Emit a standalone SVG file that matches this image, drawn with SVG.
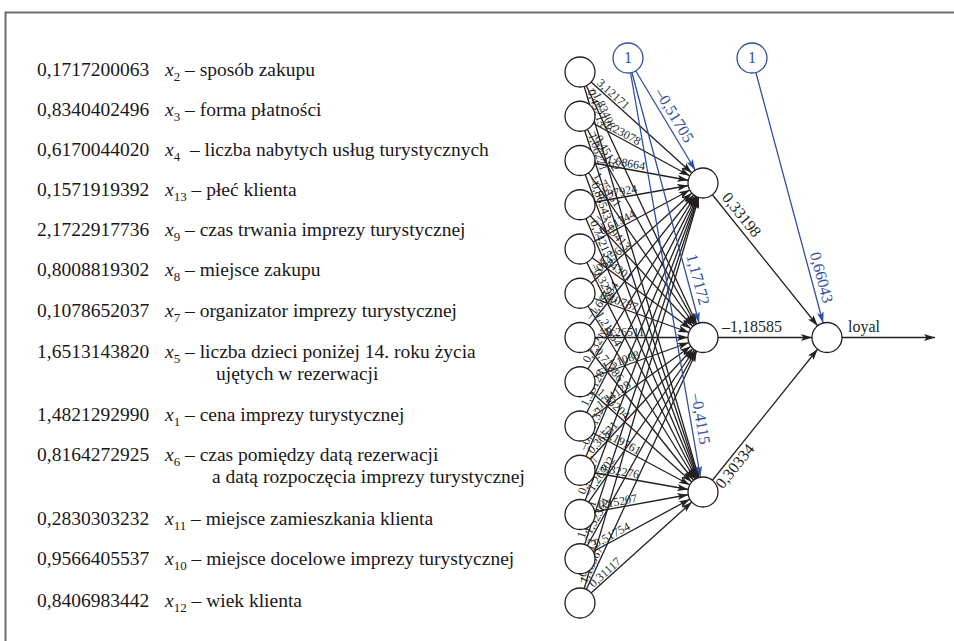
<svg xmlns="http://www.w3.org/2000/svg" width="954" height="641" viewBox="0 0 954 641">
<style>
.t{font-family:"Liberation Serif","Times New Roman",serif;font-size:19.5px;fill:#1a1718}
.s{font-size:13px}
.w{font-family:"Liberation Serif","Times New Roman",serif;font-size:12px;fill:#231f20}
.m{font-family:"Liberation Serif","Times New Roman",serif;font-size:16px;fill:#231f20}
.mb{font-family:"Liberation Serif","Times New Roman",serif;font-size:16px;fill:#2e4fa2}
.e line{stroke:#231f20;stroke-width:1.3;fill:none}
.e line.b{stroke:#2e4fa2}
circle{fill:#fff;stroke:#231f20;stroke-width:1.3}
circle.bc{stroke:#2e4fa2}
</style>
<defs>
<marker id="a" markerUnits="userSpaceOnUse" markerWidth="30" markerHeight="8" refX="26" refY="3.5" orient="auto"><path d="M0,0 L11,3.5 L0,7 L2.5,3.5 z" fill="#231f20"/></marker>
<marker id="ab" markerUnits="userSpaceOnUse" markerWidth="30" markerHeight="8" refX="26" refY="3.5" orient="auto"><path d="M0,0 L11,3.5 L0,7 L2.5,3.5 z" fill="#2e4fa2"/></marker>
<marker id="ae" markerUnits="userSpaceOnUse" markerWidth="12" markerHeight="8" refX="11" refY="3.5" orient="auto"><path d="M0,0 L11,3.5 L0,7 L2.5,3.5 z" fill="#231f20"/></marker>
</defs>
<rect x="5.5" y="12.5" width="1000" height="700" fill="#fff" stroke="#6d6d6d" stroke-width="2"/>

<g id="legend">
<text class="t" x="37" y="76">0,1717200063</text><text class="t" x="165" y="76"><tspan font-style="italic">x</tspan><tspan class="s" dy="5">2</tspan><tspan dy="-5"> – sposób zakupu</tspan></text>
<text class="t" x="37" y="116">0,8340402496</text><text class="t" x="165" y="116"><tspan font-style="italic">x</tspan><tspan class="s" dy="5">3</tspan><tspan dy="-5"> – forma płatności</tspan></text>
<text class="t" x="37" y="156">0,6170044020</text><text class="t" x="165" y="156"><tspan font-style="italic">x</tspan><tspan class="s" dy="5">4</tspan><tspan dy="-5">&#160;&#160;– liczba nabytych usług turystycznych</tspan></text>
<text class="t" x="37" y="196">0,1571919392</text><text class="t" x="165" y="196"><tspan font-style="italic">x</tspan><tspan class="s" dy="5">13</tspan><tspan dy="-5"> – płeć klienta</tspan></text>
<text class="t" x="37" y="236">2,1722917736</text><text class="t" x="165" y="236"><tspan font-style="italic">x</tspan><tspan class="s" dy="5">9</tspan><tspan dy="-5"> – czas trwania imprezy turystycznej</tspan></text>
<text class="t" x="37" y="276">0,8008819302</text><text class="t" x="165" y="276"><tspan font-style="italic">x</tspan><tspan class="s" dy="5">8</tspan><tspan dy="-5"> – miejsce zakupu</tspan></text>
<text class="t" x="37" y="317">0,1078652037</text><text class="t" x="165" y="317"><tspan font-style="italic">x</tspan><tspan class="s" dy="5">7</tspan><tspan dy="-5"> – organizator imprezy turystycznej</tspan></text>
<text class="t" x="37" y="358">1,6513143820</text><text class="t" x="165" y="358"><tspan font-style="italic">x</tspan><tspan class="s" dy="5">5</tspan><tspan dy="-5"> – liczba dzieci poniżej 14. roku życia</tspan></text>
<text class="t" x="216" y="380">ujętych w rezerwacji</text>
<text class="t" x="37" y="421">1,4821292990</text><text class="t" x="165" y="421"><tspan font-style="italic">x</tspan><tspan class="s" dy="5">1</tspan><tspan dy="-5"> – cena imprezy turystycznej</tspan></text>
<text class="t" x="37" y="461">0,8164272925</text><text class="t" x="165" y="461"><tspan font-style="italic">x</tspan><tspan class="s" dy="5">6</tspan><tspan dy="-5"> – czas pomiędzy datą rezerwacji</tspan></text>
<text class="t" x="212" y="483">a datą rozpoczęcia imprezy turystycznej</text>
<text class="t" x="37" y="525">0,2830303232</text><text class="t" x="165" y="525"><tspan font-style="italic">x</tspan><tspan class="s" dy="5">11</tspan><tspan dy="-5"> – miejsce zamieszkania klienta</tspan></text>
<text class="t" x="37" y="565">0,9566405537</text><text class="t" x="165" y="565"><tspan font-style="italic">x</tspan><tspan class="s" dy="5">10</tspan><tspan dy="-5"> – miejsce docelowe imprezy turystycznej</tspan></text>
<text class="t" x="37" y="607">0,8406983442</text><text class="t" x="165" y="607"><tspan font-style="italic">x</tspan><tspan class="s" dy="5">12</tspan><tspan dy="-5"> – wiek klienta</tspan></text>
</g>

<g id="connectors" class="e">
<line x1="580" y1="72" x2="703" y2="183" marker-end="url(#a)"/>
<line x1="580" y1="116.25" x2="703" y2="183" marker-end="url(#a)"/>
<line x1="580" y1="160.5" x2="703" y2="183" marker-end="url(#a)"/>
<line x1="580" y1="204.75" x2="703" y2="183" marker-end="url(#a)"/>
<line x1="580" y1="249" x2="703" y2="183" marker-end="url(#a)"/>
<line x1="580" y1="293.25" x2="703" y2="183" marker-end="url(#a)"/>
<line x1="580" y1="337.5" x2="703" y2="183" marker-end="url(#a)"/>
<line x1="580" y1="381.75" x2="703" y2="183" marker-end="url(#a)"/>
<line x1="580" y1="426" x2="703" y2="183" marker-end="url(#a)"/>
<line x1="580" y1="470.25" x2="703" y2="183" marker-end="url(#a)"/>
<line x1="580" y1="514.5" x2="703" y2="183" marker-end="url(#a)"/>
<line x1="580" y1="558.75" x2="703" y2="183" marker-end="url(#a)"/>
<line x1="580" y1="603" x2="703" y2="183" marker-end="url(#a)"/>

<line x1="580" y1="72" x2="703" y2="337.5" marker-end="url(#a)"/>
<line x1="580" y1="116.25" x2="703" y2="337.5" marker-end="url(#a)"/>
<line x1="580" y1="160.5" x2="703" y2="337.5" marker-end="url(#a)"/>
<line x1="580" y1="204.75" x2="703" y2="337.5" marker-end="url(#a)"/>
<line x1="580" y1="249" x2="703" y2="337.5" marker-end="url(#a)"/>
<line x1="580" y1="293.25" x2="703" y2="337.5" marker-end="url(#a)"/>
<line x1="580" y1="337.5" x2="703" y2="337.5" marker-end="url(#a)"/>
<line x1="580" y1="381.75" x2="703" y2="337.5" marker-end="url(#a)"/>
<line x1="580" y1="426" x2="703" y2="337.5" marker-end="url(#a)"/>
<line x1="580" y1="470.25" x2="703" y2="337.5" marker-end="url(#a)"/>
<line x1="580" y1="514.5" x2="703" y2="337.5" marker-end="url(#a)"/>
<line x1="580" y1="558.75" x2="703" y2="337.5" marker-end="url(#a)"/>
<line x1="580" y1="603" x2="703" y2="337.5" marker-end="url(#a)"/>

<line x1="580" y1="72" x2="703" y2="492" marker-end="url(#a)"/>
<line x1="580" y1="116.25" x2="703" y2="492" marker-end="url(#a)"/>
<line x1="580" y1="160.5" x2="703" y2="492" marker-end="url(#a)"/>
<line x1="580" y1="204.75" x2="703" y2="492" marker-end="url(#a)"/>
<line x1="580" y1="249" x2="703" y2="492" marker-end="url(#a)"/>
<line x1="580" y1="293.25" x2="703" y2="492" marker-end="url(#a)"/>
<line x1="580" y1="337.5" x2="703" y2="492" marker-end="url(#a)"/>
<line x1="580" y1="381.75" x2="703" y2="492" marker-end="url(#a)"/>
<line x1="580" y1="426" x2="703" y2="492" marker-end="url(#a)"/>
<line x1="580" y1="470.25" x2="703" y2="492" marker-end="url(#a)"/>
<line x1="580" y1="514.5" x2="703" y2="492" marker-end="url(#a)"/>
<line x1="580" y1="558.75" x2="703" y2="492" marker-end="url(#a)"/>
<line x1="580" y1="603" x2="703" y2="492" marker-end="url(#a)"/>

<line class="b" x1="628" y1="58" x2="703" y2="183" marker-end="url(#ab)"/>
<line class="b" x1="628" y1="58" x2="703" y2="337.5" marker-end="url(#ab)"/>
<line class="b" x1="628" y1="58" x2="703" y2="492" marker-end="url(#ab)"/>
<line class="b" x1="752" y1="58" x2="827" y2="337.5" marker-end="url(#ab)"/>

<line x1="703" y1="183" x2="827" y2="337.5" marker-end="url(#a)"/>
<line x1="703" y1="337.5" x2="827" y2="337.5" marker-end="url(#a)"/>
<line x1="703" y1="492" x2="827" y2="337.5" marker-end="url(#a)"/>
<line x1="827" y1="337.5" x2="935" y2="337.5" marker-end="url(#ae)"/>
</g>

<g id="weights">
<text class="w" transform="translate(580,72) rotate(42.06)" x="20" y="-2">3,12171</text>
<text class="w" transform="translate(580,116.25) rotate(28.49)" x="20" y="-2">–2,23078</text>
<text class="w" transform="translate(580,160.5) rotate(10.37)" x="20" y="-2">–1,68664</text>
<text class="w" transform="translate(580,204.75) rotate(-10.03)" x="20" y="-2">0,97924</text>
<text class="w" transform="translate(580,249) rotate(-28.22)" x="20" y="-2">–0,61344</text>
<text class="w" transform="translate(580,293.25) rotate(-41.87)" x="20" y="-2">1,08456</text>
<text class="w" transform="translate(580,337.5) rotate(-51.48)" x="20" y="-2">–1,66534</text>
<text class="w" transform="translate(580,381.75) rotate(-58.25)" x="20" y="-2">0,73215</text>
<text class="w" transform="translate(580,426) rotate(-63.16)" x="20" y="-2">1,55128</text>
<text class="w" transform="translate(580,470.25) rotate(-66.83)" x="20" y="-2">–0,84132</text>
<text class="w" transform="translate(580,514.5) rotate(-69.64)" x="20" y="-2">0,40127</text>
<text class="w" transform="translate(580,558.75) rotate(-71.87)" x="20" y="-2">1,87431</text>
<text class="w" transform="translate(580,603) rotate(-73.68)" x="20" y="-2">–0,92513</text>

<text class="w" transform="translate(580,72) rotate(65.14)" x="20" y="-2">–1,83408</text>
<text class="w" transform="translate(580,116.25) rotate(60.93)" x="20" y="-2">–0,45122</text>
<text class="w" transform="translate(580,160.5) rotate(55.21)" x="20" y="-2">1,75131</text>
<text class="w" transform="translate(580,204.75) rotate(47.18)" x="20" y="-2">–1,19413</text>
<text class="w" transform="translate(580,249) rotate(35.74)" x="20" y="-2">1,34301</text>
<text class="w" transform="translate(580,293.25) rotate(19.79)" x="20" y="-2">0,10787</text>
<text class="w" transform="translate(580,337.5)" x="20" y="-2">–0,26511</text>
<text class="w" transform="translate(580,381.75) rotate(-19.79)" x="20" y="-2">–1,51088</text>
<text class="w" transform="translate(580,426) rotate(-35.74)" x="20" y="-2">–1,24128</text>
<text class="w" transform="translate(580,470.25) rotate(-47.18)" x="20" y="-2">0,36531</text>
<text class="w" transform="translate(580,514.5) rotate(-55.21)" x="20" y="-2">–1,26302</text>
<text class="w" transform="translate(580,558.75) rotate(-60.93)" x="20" y="-2">–1,52364</text>
<text class="w" transform="translate(580,603) rotate(-65.14)" x="20" y="-2">1,18367</text>

<text class="w" transform="translate(580,72) rotate(73.68)" x="20" y="-2">0,45213</text>
<text class="w" transform="translate(580,116.25) rotate(71.87)" x="20" y="-2">1,06221</text>
<text class="w" transform="translate(580,160.5) rotate(69.64)" x="20" y="-2">–0,86543</text>
<text class="w" transform="translate(580,204.75) rotate(66.83)" x="20" y="-2">0,74215</text>
<text class="w" transform="translate(580,249) rotate(63.16)" x="20" y="-2">–0,32981</text>
<text class="w" transform="translate(580,293.25) rotate(58.25)" x="20" y="-2">–1,21654</text>
<text class="w" transform="translate(580,337.5) rotate(51.48)" x="20" y="-2">0,71386</text>
<text class="w" transform="translate(580,381.75) rotate(41.87)" x="20" y="-2">1,43204</text>
<text class="w" transform="translate(580,426) rotate(28.22)" x="20" y="-2">–0,19761</text>
<text class="w" transform="translate(580,470.25) rotate(10.03)" x="20" y="-2">0,32276</text>
<text class="w" transform="translate(580,514.5) rotate(-10.37)" x="20" y="-2">0,15207</text>
<text class="w" transform="translate(580,558.75) rotate(-28.49)" x="20" y="-2">0,51754</text>
<text class="w" transform="translate(580,603) rotate(-42.06)" x="20" y="-2">0,31117</text>

<text class="mb" transform="translate(628,58) rotate(59.04)" x="73" y="-5" text-anchor="middle">–0,51705</text>
<text class="mb" transform="translate(628,58) rotate(74.98)" x="232" y="-5" text-anchor="middle">1,17172</text>
<text class="mb" transform="translate(628,58) rotate(80.2)" x="368" y="-5" text-anchor="middle">–0,4115</text>
<text class="mb" transform="translate(752,58) rotate(74.98)" x="230" y="-5" text-anchor="middle">0,66043</text>
<text class="m" transform="translate(703,183) rotate(51.25)" x="49" y="-5" text-anchor="middle">0,33198</text>
<text class="m" x="722" y="332">–1,18585</text>
<text class="m" transform="translate(703,492) rotate(-51.25)" x="40" y="14" text-anchor="middle">0,30334</text>
<text class="m" x="848" y="332">loyal</text>
</g>

<g id="inputs">
<circle id="in1" cx="580" cy="72" r="15"/>
<circle id="in2" cx="580" cy="116.25" r="15"/>
<circle id="in3" cx="580" cy="160.5" r="15"/>
<circle id="in4" cx="580" cy="204.75" r="15"/>
<circle id="in5" cx="580" cy="249" r="15"/>
<circle id="in6" cx="580" cy="293.25" r="15"/>
<circle id="in7" cx="580" cy="337.5" r="15"/>
<circle id="in8" cx="580" cy="381.75" r="15"/>
<circle id="in9" cx="580" cy="426" r="15"/>
<circle id="in10" cx="580" cy="470.25" r="15"/>
<circle id="in11" cx="580" cy="514.5" r="15"/>
<circle id="in12" cx="580" cy="558.75" r="15"/>
<circle id="in13" cx="580" cy="603" r="15"/>
</g>
<g id="bias1"><circle class="bc" cx="628" cy="58" r="15"/><text class="mb" x="628" y="63" text-anchor="middle" font-size="14">1</text></g>
<g id="bias2"><circle class="bc" cx="752" cy="58" r="15"/><text class="mb" x="752" y="63" text-anchor="middle" font-size="14">1</text></g>
<g id="hidden1"><circle cx="703" cy="183" r="15"/></g>
<g id="hidden2"><circle cx="703" cy="337.5" r="15"/></g>
<g id="hidden3"><circle cx="703" cy="492" r="15"/></g>
<g id="output"><circle cx="827" cy="337.5" r="15"/></g>
</svg>
